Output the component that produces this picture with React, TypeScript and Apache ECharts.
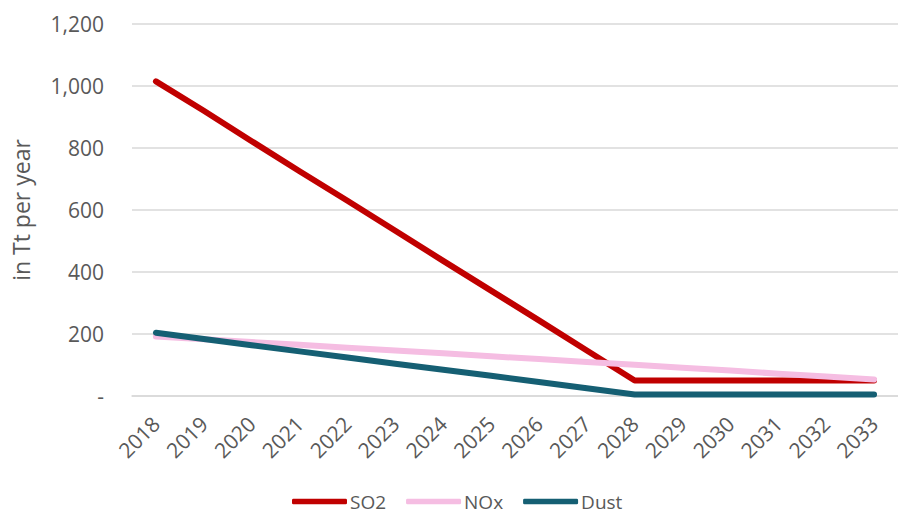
import React, { useEffect, useRef } from "react";
import * as echarts from "echarts";

const years = ["2018","2019","2020","2021","2022","2023","2024","2025","2026","2027","2028","2029","2030","2031","2032","2033"];
const so2 = [1015, 920, 822, 725, 630, 533, 436, 340, 244, 147, 50, 50, 50, 50, 50, 50];
const nox = [192, 183, 174, 165, 156, 147, 138, 128, 119, 110, 101, 91, 82, 72, 63, 53];
const dust = [204, 184, 164, 144, 124, 104, 85, 65, 45, 25, 5, 5, 5, 5, 5, 5];
const seriesNames = ["SO2", "NOx", "Dust"];
const colors = ["#C00000", "#F5BDE2", "#155F73"];

const FONT = "'Open Sans', 'Noto Sans', sans-serif";
const TXT = "#595959";

export default function App() {
  const ref = useRef<HTMLDivElement>(null);
  useEffect(() => {
    document.body.style.margin = "0";
    const chart = echarts.init(ref.current!, undefined, { renderer: "svg" });
    const data = [so2, nox, dust];
    chart.setOption({
      animation: false,
      textStyle: { fontFamily: FONT },
      grid: { left: 132, right: -12, top: 24, bottom: 119, containLabel: false },
      legend: {
        left: 287,
        top: 487,
        icon: "roundRect",
        itemWidth: 55,
        itemHeight: 5.5,
        itemGap: 20,
        textStyle: { color: TXT, fontSize: 19, fontFamily: FONT, padding: [0, 0, 0, -2] },
        data: seriesNames,
      },
      xAxis: {
        type: "category",
        data: years,
        boundaryGap: true,
        axisLine: { show: true, lineStyle: { color: "#D9D9D9", width: 1.5 } },
        axisTick: { show: false },
        axisLabel: { rotate: 45, margin: 24, color: TXT, fontSize: 21, fontFamily: FONT, interval: 0 },
      },
      yAxis: {
        type: "value",
        min: 0,
        max: 1200,
        interval: 200,
        name: "in Tt per year",
        nameLocation: "middle",
        nameGap: 100,
        nameTextStyle: { color: TXT, fontSize: 23, fontFamily: FONT },
        axisLine: { show: false },
        axisTick: { show: false },
        axisLabel: {
          color: TXT,
          fontSize: 21,
          fontFamily: FONT,
          margin: 28,
          formatter: (v: number) => (v === 0 ? "-" : v.toLocaleString("en-US")),
        },
        splitLine: { lineStyle: { color: "#D9D9D9", width: 1.5 } },
      },
      series: seriesNames.map((n, i) => ({
        name: n,
        type: "line",
        data: data[i],
        symbol: "none",
        color: colors[i],
        lineStyle: { color: colors[i], width: 6, cap: "round", join: "round" },
      })),
    });
    return () => chart.dispose();
  }, []);
  return <div ref={ref} style={{ position: "absolute", left: 0, top: 0, width: 898, height: 515 }} />;
}
